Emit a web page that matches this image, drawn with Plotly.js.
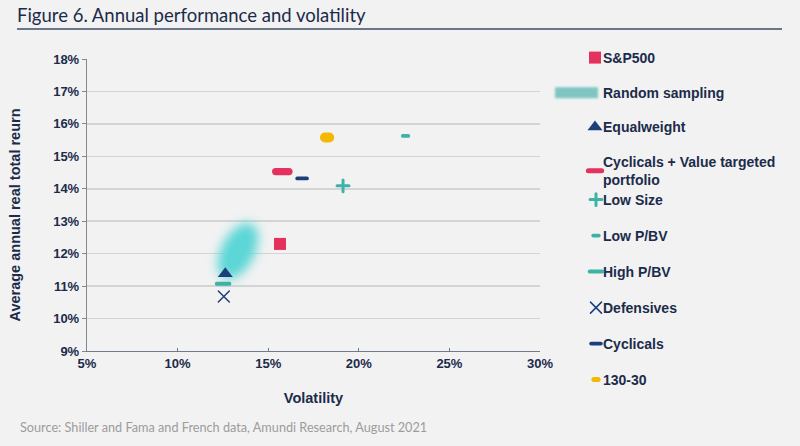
<!DOCTYPE html>
<html>
<head>
<meta charset="utf-8">
<script src="https://cdn.plot.ly/plotly-3.0.1.min.js"></script>
<style>
html,body{margin:0;padding:0;background:#f2f2f2;}
#chart{width:800px;height:446px;}
</style>
</head>
<body>
<div id="chart"></div>
<script>
// ---- data ----
const pointNames = ['S&P500','Equalweight','Cyclicals + Value targeted<br>portfolio','Low Size','Low P/BV','High P/BV','Defensives','Cyclicals','130-30'];
const pointVol   = [15.65, 12.63, 15.78, 19.13, 22.58, 12.51, 12.55, 16.87, 18.25];
const pointRet   = [12.30, 11.38, 14.53, 14.09, 15.63, 11.07, 10.68, 14.32, 15.58];
const cloudName  = 'Random sampling';
const cloudVol   = [14.11, 14.43, 14.44, 14.17, 13.67, 13.08, 12.56, 12.24, 12.22, 12.50, 13.00, 13.59, 14.11];
const cloudRet   = [12.93, 12.70, 12.30, 11.85, 11.45, 11.23, 11.23, 11.47, 11.86, 12.32, 12.71, 12.94, 12.93];
const xTicks = [5, 10, 15, 20, 25, 30];
const yTicks = [9, 10, 11, 12, 13, 14, 15, 16, 17, 18];

// ---- styles ----
const RED = '#e2325d', NAVY = '#1b3f7a', TEAL = '#3db3a8', YEL = '#f5b800', TXT = '#1c2b4a';
const symbols   = ['square','triangle-up','line-ew','cross-thin','line-ew','line-ew','x-thin','line-ew','line-ew'];
const sizes     = [12, 13, 9.5, 8.5, 4, 9, 11, 7, 3];
const colors    = [RED, NAVY, RED, TEAL, TEAL, TEAL, NAVY, NAVY, YEL];
const lineW     = [0, 0, 7.3, 3, 3.7, 4, 1.5, 3.7, 10];
const ranks     = [1, 3, 4, 5, 6, 7, 8, 9, 10];
const legendIds = ['legend','legend','legend','legend2','legend2','legend2','legend2','legend2','legend2'];

const traces = [{
  type: 'scatter', mode: 'none', x: cloudVol, y: cloudRet, name: cloudName,
  fill: 'toself', fillcolor: 'rgb(92,214,214)', hoverinfo: 'skip',
  legend: 'legend', legendgroup: 'g_cloud', legendrank: 2
}];
pointNames.forEach((n, i) => {
  traces.push({
    type: 'scatter', mode: 'markers', x: [pointVol[i]], y: [pointRet[i]], name: n,
    legend: legendIds[i], legendgroup: 'g' + i, legendrank: ranks[i],
    marker: { symbol: symbols[i], size: sizes[i], color: colors[i],
              line: { color: colors[i], width: lineW[i] } }
  });
});

const tickFont = { family: 'Liberation Sans, Arial, sans-serif', size: 13, color: TXT, weight: 'bold' };
const legFont  = { family: 'Liberation Sans, Arial, sans-serif', size: 14, color: TXT, weight: 'bold' };

const layout = {
  width: 800, height: 446,
  paper_bgcolor: '#f2f2f2', plot_bgcolor: '#f2f2f2',
  margin: { l: 87, r: 260, t: 59, b: 95 },
  showlegend: true,
  title: {
    text: 'Figure 6. Annual performance and volatility',
    x: 17 / 800, xref: 'container', xanchor: 'left',
    y: 1 - 16 / 446, yref: 'container', yanchor: 'middle',
    font: { family: 'Lato, sans-serif', size: 18.5, color: TXT }
  },
  xaxis: {
    range: [5, 30], tickvals: xTicks, ticktext: xTicks.map(v => v + '%'),
    showgrid: false, zeroline: false,
    showline: true, linecolor: '#6f7b8a', linewidth: 1.2,
    ticks: 'inside', ticklen: 3, tickcolor: '#6f7b8a',
    tickfont: tickFont,
    title: { text: 'Volatility', standoff: 23,
             font: { family: 'Liberation Sans, Arial, sans-serif', size: 14.5, color: TXT, weight: 'bold' } }
  },
  yaxis: {
    range: [9, 18], tickvals: yTicks, ticktext: yTicks.map(v => v + '%'),
    showgrid: true, gridcolor: '#d4d4d4', gridwidth: 1.5, zeroline: false,
    showline: true, linecolor: '#7f8790', linewidth: 1.2,
    ticks: 'outside', ticklen: 4, tickcolor: '#7f8790',
    tickfont: tickFont,
    title: { text: 'Average annual real total reurn', standoff: 29,
             font: { family: 'Liberation Sans, Arial, sans-serif', size: 14.5, color: TXT, weight: 'bold' } }
  },
  legend: {
    x: (548 - 87) / 453, xanchor: 'left', y: 1 + (59 - 42) / 292, yanchor: 'top',
    bgcolor: 'rgba(0,0,0,0)', font: legFont, itemwidth: 45, tracegroupgap: 13.5,
    valign: 'top', traceorder: 'grouped', itemclick: false
  },
  legend2: {
    x: (563 - 87) / 453, xanchor: 'left', y: (351 - 184) / 292, yanchor: 'top',
    bgcolor: 'rgba(0,0,0,0)', font: legFont, itemwidth: 30, tracegroupgap: 14.8,
    valign: 'top', traceorder: 'grouped', itemclick: false
  },
  shapes: [{
    type: 'line', xref: 'paper', yref: 'paper',
    x0: (17 - 87) / 453, x1: (782 - 87) / 453, y0: 1 + (59 - 29) / 292, y1: 1 + (59 - 29) / 292,
    line: { color: '#3e4d66', width: 1.5 }
  }],
  annotations: [{
    text: 'Source: Shiller and Fama and French data, Amundi Research, August 2021',
    xref: 'paper', yref: 'paper', x: (18 - 87) / 453, y: (351 - 427) / 292,
    xanchor: 'left', yanchor: 'middle', showarrow: false,
    font: { family: 'Lato, sans-serif', size: 12.7, color: '#9c9c9c' }
  }]
};

const gd = document.getElementById('chart');
Plotly.newPlot(gd, traces, layout, { staticPlot: true, displayModeBar: false }).then(() => {
  const NS = 'http://www.w3.org/2000/svg';
  const svg = gd.querySelector('svg.main-svg');
  let defs = svg.querySelector('defs');
  function mkBlur(id, sd) {
    const f = document.createElementNS(NS, 'filter');
    f.setAttribute('id', id);
    f.setAttribute('x', '-60%'); f.setAttribute('y', '-60%');
    f.setAttribute('width', '220%'); f.setAttribute('height', '220%');
    const b = document.createElementNS(NS, 'feGaussianBlur');
    b.setAttribute('stdDeviation', sd);
    f.appendChild(b); defs.appendChild(f);
  }
  mkBlur('cloudBlur', 5.5);
  mkBlur('legBlur', 1.3);
  const cloudFill = gd.querySelector('.scatterlayer .trace .js-fill');
  if (cloudFill) cloudFill.setAttribute('filter', 'url(#cloudBlur)');
  gd.querySelectorAll('path.point, path.scatterpts').forEach(p => { p.style.strokeLinecap = 'round'; });
  const adjust = (sel, dx) => {
    gd.querySelectorAll(sel + ' .traces').forEach(tr => {
      const t = tr.querySelector('.legendtext');
      const layers = tr.querySelector('g.layers');
      if (!layers) return;
      if (t && t.textContent.indexOf('Random') === 0) {
        const f = layers.querySelector('.js-fill');
        if (f) {
          f.setAttribute('d', 'M7,-5h43v11h-43z');
          f.style.fill = '#7fc6c2'; f.style.fillOpacity = 1;
          f.setAttribute('filter', 'url(#legBlur)');
        }
      } else {
        layers.setAttribute('transform', 'translate(' + dx + ',0)');
      }
    });
  };
  adjust('g.legend', 19.5);
  adjust('g.legend2', 13);
  const yt = gd.querySelector('.ytitle');
  if (yt) {
    const x = parseFloat(yt.getAttribute('x')), y = parseFloat(yt.getAttribute('y')) + 10;
    yt.setAttribute('y', y);
    yt.setAttribute('transform', 'rotate(-90,' + x + ',' + y + ')');
  }
});
</script>
</body>
</html>
